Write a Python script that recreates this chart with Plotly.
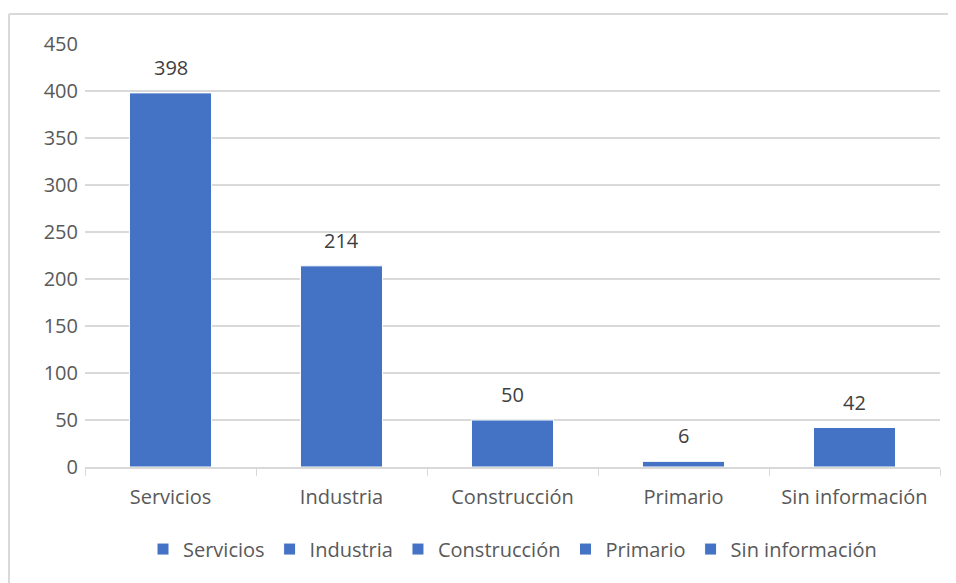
import plotly.graph_objects as go

# sector categories and counts
categorias = ["Servicios", "Industria", "Construcción", "Primario", "Sin información"]
valores = [398, 214, 50, 6, 42]
y_ticks = [0, 50, 100, 150, 200, 250, 300, 350, 400, 450]

color_barra = "#4472C4"
color_texto = "#595959"
color_linea = "#d9d9d9"
fuente = "Open Sans"

fig = go.Figure()
for cat, val in zip(categorias, valores):
    fig.add_trace(
        go.Bar(
            x=[cat], y=[val], name=cat,
            marker_color=color_barra, marker_line=dict(color="white", width=1),
            width=0.48,
        )
    )

# data labels sit a bit above each bar, Excel style
etiquetas = [
    dict(x=cat, y=val, text=str(val), showarrow=False, yanchor="bottom", yshift=10,
         font=dict(size=20, color="#404040", family=fuente))
    for cat, val in zip(categorias, valores)
]

fig.update_layout(
    width=948, height=575,
    barmode="overlay",
    paper_bgcolor="white", plot_bgcolor="white",
    margin=dict(l=77, r=16, t=36, b=116, autoexpand=False),
    font=dict(family=fuente, size=20, color=color_texto),
    showlegend=True,
    legend=dict(orientation="h", x=0.5, xanchor="center", y=-0.194, yanchor="middle",
                font=dict(size=20, color=color_texto), itemwidth=30),
    xaxis=dict(showline=True, linecolor=color_linea, linewidth=1.5, automargin=False,
               ticks="outside", tickson="boundaries", tickcolor=color_linea, ticklen=7,
               ticklabelstandoff=11,
               showgrid=False, tickfont=dict(size=20, color=color_texto)),
    yaxis=dict(range=[0, 450], tickvals=y_ticks, showgrid=True, gridcolor=color_linea,
               gridwidth=1.5, zeroline=False, showline=False, ticks="", automargin=False,
               tickfont=dict(size=20, color=color_texto), ticklabelstandoff=6),
    annotations=etiquetas,
    shapes=[
        dict(type="line", xref="paper", yref="paper", x0=-0.0889, x1=-0.0889,
             y0=-0.3, y1=1.0709, line=dict(color=color_linea, width=2)),
        dict(type="line", xref="paper", yref="paper", x0=-0.0889, x1=1.02,
             y0=1.0709, y1=1.0709, line=dict(color=color_linea, width=2)),
    ],
)

fig.write_html("out.html")
